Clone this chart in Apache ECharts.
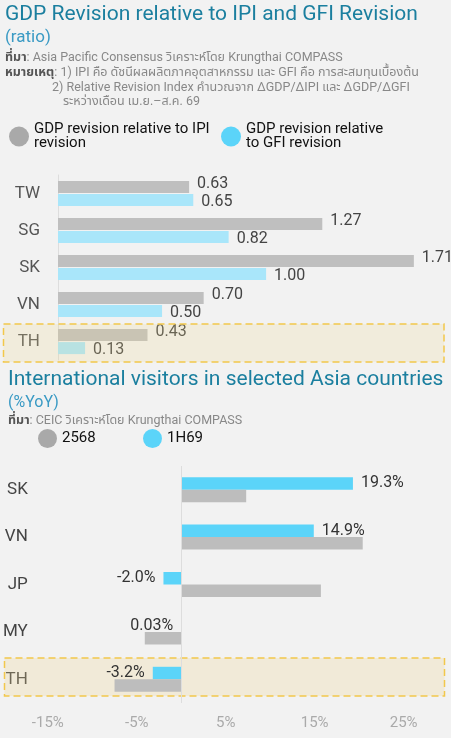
<!DOCTYPE html>
<html><head><meta charset="utf-8">
<script src="https://cdn.jsdelivr.net/npm/echarts@6/dist/echarts.min.js"></script>
<style>html,body{margin:0;padding:0;background:#f2f2f2;}#c{width:451px;height:738px;}</style>
</head><body><div id="c"></div>
<script>
// ---- Chart 1 data ----
const gdpCategories = ['TW', 'SG', 'SK', 'VN', 'TH'];
const gdpIpiValues = [0.63, 1.27, 1.71, 0.70, 0.43];
const gdpGfiValues = [0.65, 0.82, 1.00, 0.50, 0.13];
const gdpSeriesNames = ['GDP revision relative to IPI revision', 'GDP revision relative to GFI revision'];
const gdpLegendLabels = ['GDP revision relative to IPI\nrevision', 'GDP revision relative\nto GFI revision'];

// ---- Chart 2 data ----
const visitCategories = ['SK', 'VN', 'JP', 'MY', 'TH'];
const visit1H69 = [19.3, 14.9, -2.0, 0.03, -3.2];
const visit2568 = [7.3, 20.4, 15.7, -4.1, -7.5];
const visitSeriesNames = ['2568', '1H69'];
const visitTicks = [-15, -5, 5, 15, 25];

const F = "Roboto, 'Noto Sans', 'Noto Sans Thai', 'Loma', 'Garuda', sans-serif";
const chart = echarts.init(document.getElementById('c'));

function leg(idx, name, label, color, left, top, size) {
  return {
    left: left, top: top, orient: 'horizontal', selectedMode: false,
    itemWidth: size, itemHeight: size, padding: 0,
    data: [{ name: name, icon: 'circle', itemStyle: { color: color } }],
    formatter: function () { return label; },
    textStyle: { fontFamily: F, fontSize: 15, lineHeight: 14, color: '#111' }
  };
}

const option = {
  backgroundColor: '#f2f2f2',
  animation: false,
  textStyle: { fontFamily: F },
  legend: [
    leg(0, gdpSeriesNames[0], gdpLegendLabels[0], '#a9a9a9', 9, 122, 20),
    leg(0, gdpSeriesNames[1], gdpLegendLabels[1], '#5bd4f9', 221, 122, 20),
    leg(1, visitSeriesNames[0], visitSeriesNames[0], '#a9a9a9', 38, 429, 19),
    leg(1, visitSeriesNames[1], visitSeriesNames[1], '#5bd4f9', 143, 429, 19)
  ],
  grid: [
    { left: 58, top: 175, width: 385, height: 185, containLabel: false },
    { left: 46.5, top: 466, width: 401.6, height: 237, containLabel: false }
  ],
  xAxis: [
    { gridIndex: 0, type: 'value', min: 0, max: 1.85, show: false },
    {
      gridIndex: 1, type: 'value', min: visitTicks[0], max: 30,
      interval: visitTicks[1] - visitTicks[0],
      axisLine: { show: false }, axisTick: { show: false }, splitLine: { show: false },
      axisLabel: { formatter: '{value}%', color: '#aaaaaa', fontSize: 15, margin: 13, showMaxLabel: false }
    }
  ],
  yAxis: [
    {
      gridIndex: 0, type: 'category', inverse: true, data: gdpCategories,
      axisLine: { show: true, lineStyle: { color: '#dddddd' } }, axisTick: { show: false },
      axisLabel: { color: '#555', fontSize: 17, margin: 18 }
    },
    {
      gridIndex: 1, type: 'category', inverse: true, data: visitCategories,
      axisLine: { show: false }, axisTick: { show: false },
      axisLabel: { color: '#444', fontSize: 17, margin: 20 }
    }
  ],
  series: [
    {
      name: gdpSeriesNames[0], type: 'bar', xAxisIndex: 0, yAxisIndex: 0,
      data: gdpIpiValues, barWidth: 12, barGap: '10%',
      itemStyle: { color: '#bfbfbf' },
      label: { show: true, position: 'right', distance: 8, offset: [0, -3], color: '#444', fontSize: 16,
        formatter: p => p.value.toFixed(2) }
    },
    {
      name: gdpSeriesNames[1], type: 'bar', xAxisIndex: 0, yAxisIndex: 0,
      data: gdpGfiValues, barWidth: 12, barGap: '10%',
      itemStyle: { color: '#a9e6fa' },
      label: { show: true, position: 'right', distance: 8, offset: [0, 2], color: '#444', fontSize: 16,
        formatter: p => p.value.toFixed(2) }
    },
    {
      name: visitSeriesNames[1], type: 'bar', xAxisIndex: 1, yAxisIndex: 1,
      data: visit1H69.map(v => ({ value: v, label: { position: v < 0.5 ? 'left' : 'right' } })),
      barWidth: 12.5, barGap: '0%',
      itemStyle: { color: '#5bd4f9' },
      label: { show: true, distance: 8, color: '#333', fontSize: 16,
        formatter: p => (Math.abs(p.value) < 0.1 ? p.value.toFixed(2) : p.value.toFixed(1)) + '%' },
      markLine: {
        silent: true, symbol: 'none', label: { show: false },
        lineStyle: { color: '#dddddd', width: 1, type: 'solid' },
        data: [{ xAxis: 0 }]
      }
    },
    {
      name: visitSeriesNames[0], type: 'bar', xAxisIndex: 1, yAxisIndex: 1,
      data: visit2568, barWidth: 12.5, barGap: '0%',
      itemStyle: { color: '#bdbdbd' }
    }
  ],
  graphic: [
    { type: 'text', x: 5, y: 15, z: 10, style: { text: 'GDP Revision relative to IPI and GFI Revision', fontFamily: F, fontSize: 21, fill: '#1b7f9f', verticalAlign: 'middle' } },
    { type: 'text', x: 5, y: 38, z: 10, style: { text: '(ratio)', fontFamily: F, fontSize: 17, fill: '#3a9ac4', verticalAlign: 'middle' } },
    { type: 'text', x: 5, y: 58, z: 10, style: { text: '{b|ที่มา}: Asia Pacific Consensus วิเคราะห์โดย Krungthai COMPASS', fontFamily: F, fontSize: 12.5, fill: '#888', verticalAlign: 'middle', rich: { b: { fontFamily: F, fontSize: 12.5, fontWeight: 'bold', fill: '#555' } } } },
    { type: 'text', x: 5, y: 73, z: 10, style: { text: '{b|หมายเหตุ}: 1) IPI คือ ดัชนีผลผลิตภาคอุตสาหกรรม และ GFI คือ การสะสมทุนเบื้องต้น', fontFamily: F, fontSize: 12.5, fill: '#888', verticalAlign: 'middle', rich: { b: { fontFamily: F, fontSize: 12.5, fontWeight: 'bold', fill: '#555' } } } },
    { type: 'text', x: 52, y: 88, z: 10, style: { text: '2) Relative Revision Index คำนวณจาก ΔGDP/ΔIPI และ ΔGDP/ΔGFI', fontFamily: F, fontSize: 12.5, fill: '#888', verticalAlign: 'middle' } },
    { type: 'text', x: 63, y: 102, z: 10, style: { text: 'ระหว่างเดือน เม.ย.–ส.ค. 69', fontFamily: F, fontSize: 12.5, fill: '#888', verticalAlign: 'middle' } },
    { type: 'text', x: 8, y: 380, z: 10, style: { text: 'International visitors in selected Asia countries', fontFamily: F, fontSize: 21, fill: '#1b7f9f', verticalAlign: 'middle' } },
    { type: 'text', x: 8, y: 403, z: 10, style: { text: '(%YoY)', fontFamily: F, fontSize: 16, fill: '#3a9ac4', verticalAlign: 'middle' } },
    { type: 'text', x: 8, y: 421, z: 10, style: { text: '{b|ที่มา}: CEIC วิเคราะห์โดย Krungthai COMPASS', fontFamily: F, fontSize: 12.5, fill: '#888', verticalAlign: 'middle', rich: { b: { fontFamily: F, fontSize: 12.5, fontWeight: 'bold', fill: '#555' } } } },
    { type: 'rect', z: 100, silent: true, shape: { x: 3.5, y: 324, width: 440.5, height: 38 }, style: { fill: 'rgba(238,212,140,0.22)', stroke: '#f2c84b', lineWidth: 1.5, lineDash: [7, 4] } },
    { type: 'rect', z: 1, silent: true, shape: { x: 4.5, y: 658, width: 440, height: 38 }, style: { fill: 'rgba(238,212,140,0.25)', stroke: '#f2c84b', lineWidth: 1.5, lineDash: [7, 4] } }
  ]
};
chart.setOption(option);
</script>
</body></html>
